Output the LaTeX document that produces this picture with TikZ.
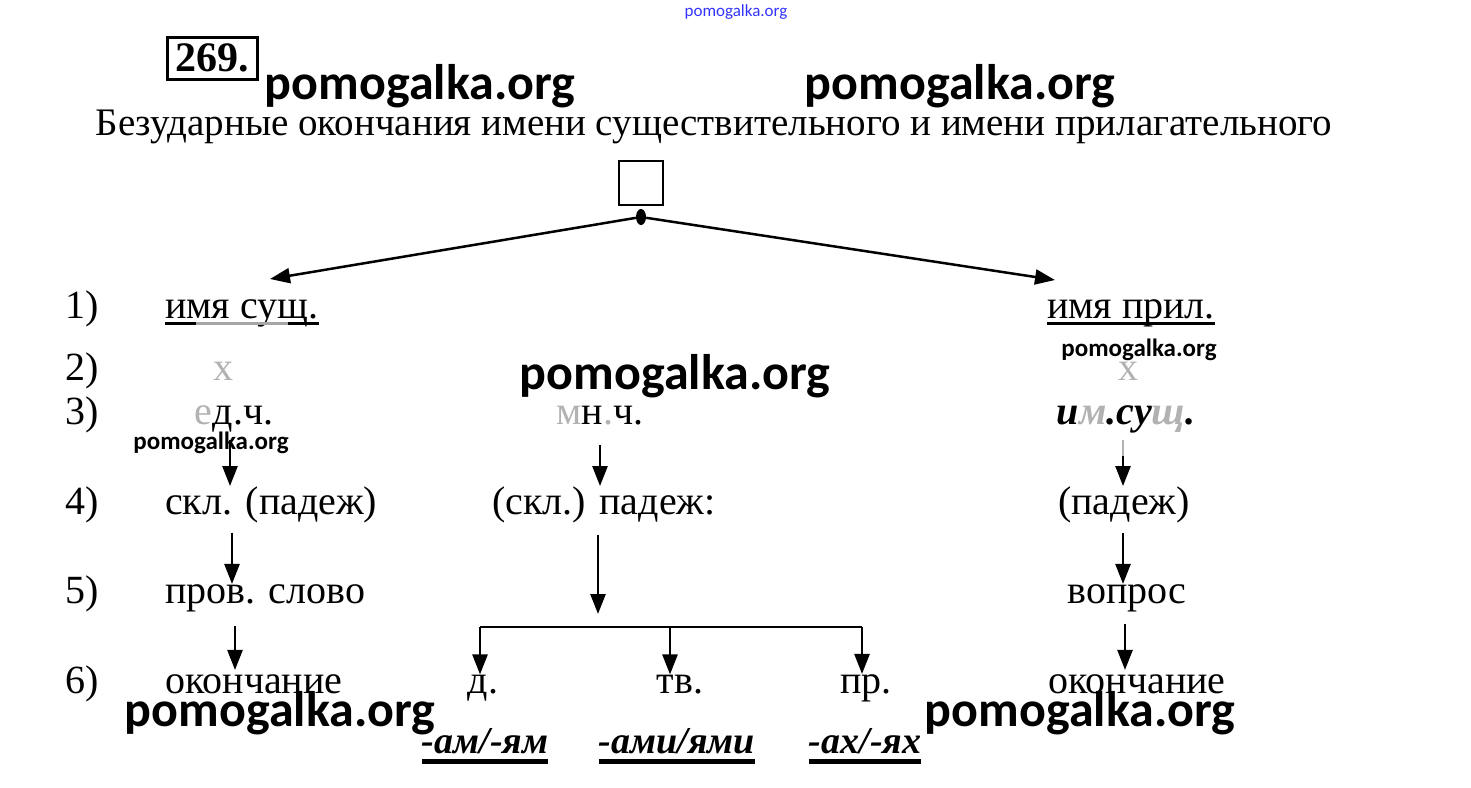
\documentclass[tikz,border=0pt]{standalone}
\usepackage{fontspec}
\setmainfont{Liberation Serif}
\newfontfamily\wmfont{Carlito}
\usetikzlibrary{arrows.meta, shapes.geometric}

\tikzset{
  txt/.style={font=\fontsize{40}{40}\selectfont, inner sep=0pt, anchor=base},
  lft/.style={txt, anchor=base west},
  endg/.style={font=\fontsize{38}{38}\selectfont\bfseries\itshape, inner sep=0pt, anchor=base},
  arr/.style={line width=2.5pt, -{Triangle[length=20pt,width=15pt]}},
  ln/.style={line width=2.5pt},
  uline/.style={line width=3pt},
  eline/.style={line width=5pt},
  wm/.style={font=\wmfont\bfseries\fontsize{50}{50}\selectfont, inner sep=0pt},
  wms/.style={font=\wmfont\bfseries\fontsize{25}{25}\selectfont, inner sep=0pt},
}

\begin{document}
\begin{tikzpicture}[x=1pt, y=-1pt]
\useasboundingbox (0,0) rectangle (1471,787);
% title
\node[draw, line width=3pt, inner sep=0pt, minimum width=90pt, minimum height=42pt, font=\fontsize{42}{42}\selectfont\bfseries] (num) at (212,58) {269.};
\node[txt, font=\fontsize{39}{39}\selectfont] (title) at (714,135) {Безударные окончания имени существительного и имени прилагательного};
\node[draw, line width=2.5pt, minimum size=44pt, inner sep=0pt] (sq) at (641,183) {};
\node[fill, ellipse, minimum width=10pt, minimum height=16pt, inner sep=0pt] (dot) at (641,217) {};
\coordinate (subtip) at (270,279);
\coordinate (prltip) at (1055,280);
\draw[arr] (dot) -- (subtip);
\draw[arr] (dot) -- (prltip);
% row numbers
\foreach \r/\y in {1/318, 2/380, 3/424, 4/514, 5/603, 6/693} {
  \node[lft] (row\r) at (65,\y) {\r)};
}
% left column
\node[lft] (sub) at (165,318) {имя сущ.};
\draw[uline] ([yshift=-5pt]sub.base west) -- ++(31,0);
\draw[uline, gray!70] ([yshift=-5pt,xshift=31pt]sub.base west) -- ++(92,0);
\draw[uline] ([yshift=-5pt,xshift=123pt]sub.base west) -- ([yshift=-5pt]sub.base east);
\node[txt, gray!60] (x1) at (223,380) {х};
\node[txt] (sg) at (234,424) {\textcolor{gray!60}{е}д.ч.};
\node[lft] (case1) at (165,514) {скл. (падеж)};
\node[lft] (word) at (165,603) {пров. слово};
\node[lft] (end1) at (165,693) {окончание};
\draw[arr, shorten <=8pt] (sg.south -| 230,0) -- (case1.north -| 230,0);
\draw[arr, shorten <=10pt] (case1.south -| 232,0) -- (word.north -| 232,0);
\draw[arr, shorten <=14pt, shorten >=4pt] (word.south -| 235,0) -- (end1.north -| 235,0);
% middle column
\node[txt] (pl) at (600,424) {\textcolor{gray!60}{м}н\textcolor{gray!60}{.}ч.};
\node[txt] (case2) at (604,514) {(скл.) падеж:};
\coordinate (fork) at (598,627);
\draw[arr, shorten <=20pt] (pl.south -| 600,0) -- (case2.north -| 600,0);
\draw[arr, shorten <=12pt] (case2.south -| fork) -- ([yshift=13pt]fork);
\node[txt] (dat) at (483,693) {д.};
\node[txt] (ins) at (680,693) {тв.};
\node[txt] (loc) at (866,693) {пр.};
\draw[ln] (480,627) -- (862,627);
\draw[arr] (480,627) -- (dat.north -| 480,0);
\draw[arr] (670,627) -- (ins.north -| 670,0);
\draw[arr] (862,627) -- (loc.north -| 862,0);
\node[endg] (e1) at (485,753) {-ам/-ям};
\node[endg] (e2) at (677,753) {-ами/ями};
\node[endg] (e3) at (865,753) {-ах/-ях};
\foreach \e in {e1, e2, e3} {
  \draw[eline] ([yshift=-8pt]\e.base west) -- ([yshift=-8pt]\e.base east);
}
% right column
\node[txt] (prl) at (1131,318) {имя прил.};
\draw[uline] ([yshift=-5pt]prl.base west) -- ([yshift=-5pt]prl.base east);
\node[txt, gray!60] (x2) at (1128,380) {х};
\node[txt, font=\fontsize{40}{40}\selectfont\bfseries\itshape] (imsu) at (1126,424) {и\textcolor{gray!60}{м}.су\textcolor{gray!60}{щ}.};
\node[txt] (case3) at (1124,514) {(падеж)};
\node[txt] (q) at (1127,603) {вопрос};
\node[txt] (end3) at (1137,693) {окончание};
\draw[line width=2pt, gray!60] (1123,440) -- (1123,456);
\draw[arr] (1123,456) -- (case3.north -| 1123,0);
\draw[arr, shorten <=10pt] (case3.south -| 1123,0) -- (q.north -| 1123,0);
\draw[arr, shorten <=12pt, shorten >=4pt] (q.south -| 1125,0) -- (end3.north -| 1125,0);
% watermarks
\node[font=\wmfont\fontsize{17}{17}\selectfont, text=blue!80, inner sep=0pt] (wm0) at (736,12) {pomogalka.org};
\node[wm] (wm1) at (420,86) {pomogalka.org};
\node[wm] (wm2) at (960,86) {pomogalka.org};
\node[wm] (wm3) at (675,376) {pomogalka.org};
\node[wm] (wm4) at (280,713) {pomogalka.org};
\node[wm] (wm5) at (1080,713) {pomogalka.org};
\node[wms] (wm6) at (211,443) {pomogalka.org};
\node[wms] (wm7) at (1139,350) {pomogalka.org};
\end{tikzpicture}
\end{document}
